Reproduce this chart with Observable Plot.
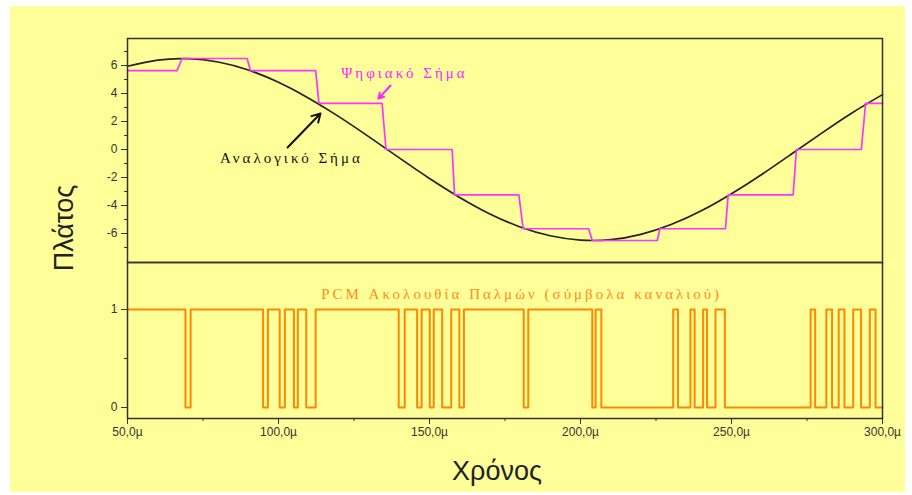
<!DOCTYPE html>
<html>
<head>
<meta charset="utf-8">
<script src="https://cdn.jsdelivr.net/npm/d3@7"></script>
<script src="https://cdn.jsdelivr.net/npm/@observablehq/plot@0.6"></script>
<style>
  body { margin: 0; background: #ffffff; width: 912px; height: 495px; overflow: hidden; position: relative; }
  #bg { position: absolute; left: 10px; top: 6px; width: 895px; height: 486px; background: #ffff99; }
  #top, #bot { position: absolute; left: 0; }
  #top { top: 0; }
  #bot { top: 260px; }
  #ylab { position: absolute; left: 64px; top: 228px; transform: translate(-50%, -50%) rotate(-90deg);
          font-family: "Liberation Sans", Arial, sans-serif; font-size: 27px; color: #222; white-space: nowrap; }
  #xlab { position: absolute; left: 497px; top: 471px; transform: translate(-50%, -50%);
          font-family: "Liberation Sans", Arial, sans-serif; font-size: 27px; color: #222; white-space: nowrap; }
  svg { overflow: visible; }
</style>
</head>
<body>
<div id="bg"></div>
<div id="top"></div>
<div id="bot"></div>
<div id="ylab">Πλάτος</div>
<div id="xlab">Χρόνος</div>
<script>
// Analog signal (time in µs, amplitude)
const analogTime = [50, 60, 70, 80, 90, 100, 110, 120, 130, 140, 150, 160, 170, 180, 190, 200, 210, 220, 230, 240, 250, 260, 270, 280, 290, 300];
const analogValue = [5.95, 6.39, 6.49, 6.25, 5.68, 4.80, 3.67, 2.35, 0.90, -0.60, -2.07, -3.42, -4.60, -5.53, -6.16, -6.47, -6.44, -6.06, -5.36, -4.38, -3.16, -1.78, -0.30, 1.19, 2.63, 3.92];

// Digital (sample-and-hold) signal
const digitalTime = [50, 66.4, 68.1, 89.6, 90.7, 112.3, 113.4, 134.3, 135.6, 157.5, 158.3, 179.6, 181.0, 202.7, 203.9, 225.4, 226.3, 248.0, 248.9, 270.4, 271.5, 293.0, 294.4, 300];
const digitalValue = [5.64, 5.64, 6.5, 6.5, 5.64, 5.64, 3.3, 3.3, 0, 0, -3.24, -3.24, -5.66, -5.66, -6.5, -6.5, -5.66, -5.66, -3.24, -3.24, 0, 0, 3.3, 3.3];

// PCM pulse train (level changes)
const pcmTime = [50, 69.2, 70.9, 94.9, 96.5, 100.4, 102.1, 105.1, 106.4, 109.2, 112.3, 139.8, 141.8, 145.9, 147.4, 150.1, 151.4, 154.2, 157.2, 159.9, 161.4, 181.2, 182.7, 203.9, 205.0, 206.9, 230.7, 232.3, 236.4, 237.8, 240.6, 241.9, 244.7, 247.8, 276.2, 277.7, 281.4, 283.3, 285.5, 287.4, 290.3, 292.9, 295.8, 297.7, 300];
const pcmLevel = [1, 0, 1, 0, 1, 0, 1, 0, 1, 0, 1, 0, 1, 0, 1, 0, 1, 0, 1, 0, 1, 0, 1, 0, 1, 0, 1, 0, 1, 0, 1, 0, 1, 0, 1, 0, 1, 0, 1, 0, 1, 0, 1, 0, 0];

// Ticks
const topMajorTicks = [-6, -4, -2, 0, 2, 4, 6];
const topMinorTicks = [-7, -5, -3, -1, 1, 3, 5, 7];
const botMajorTicks = [0, 1];
const botMinorTicks = [0.5];
const xMajorTicks = [50, 100, 150, 200, 250, 300];
const xMinorTicks = [75, 125, 175, 225, 275];

// Labels
const digitalLabel = "Ψηφιακό Σήμα";
const analogLabel = "Αναλογικό Σήμα";
const pcmLabel = "PCM Ακολουθία Παλμών (σύμβολα καναλιού)";

const analog = analogTime.map((t, i) => ({t, v: analogValue[i]}));
const digital = digitalTime.map((t, i) => ({t, v: digitalValue[i]}));
const pcm = pcmTime.map((t, i) => ({t, v: pcmLevel[i]}));

const axisStyle = {fontFamily: "Liberation Sans, Arial, sans-serif", fontSize: "12px", color: "#333", background: "transparent"};

const topPlot = Plot.plot({
  width: 912, height: 264,
  marginLeft: 127, marginRight: 30, marginTop: 38, marginBottom: 2,
  style: axisStyle,
  x: {domain: [50, 300], axis: null},
  y: {domain: [-8.07, 7.93], axis: null},
  marks: [
    Plot.axisY({ticks: topMajorTicks, tickSize: 6, tickPadding: 4, tickFormat: d => String(d), label: null}),
    Plot.axisY({ticks: topMinorTicks, tickSize: 3, text: null, label: null}),
    Plot.line(analog, {x: "t", y: "v", curve: "natural", stroke: "#222", strokeWidth: 1.7}),
    Plot.line(digital, {x: "t", y: "v", stroke: "#ff33ff", strokeWidth: 1.7}),
    Plot.text([digitalLabel], {x: 141.7, y: 5.43, text: d => d, fill: "#ff22ff", fontSize: 15, fontFamily: "Liberation Serif, serif"}),
    Plot.arrow([0], {x1: 137.1, y1: 4.57, x2: 133.1, y2: 3.64, stroke: "#ff22ff", strokeWidth: 2, headLength: 7}),
    Plot.text([analogLabel], {x: 104.3, y: -0.64, text: d => d, fill: "#111", fontSize: 15, fontFamily: "Liberation Serif, serif"}),
    Plot.arrow([0], {x1: 103.0, y1: 0.14, x2: 113.9, y2: 2.57, stroke: "#111", strokeWidth: 2, headLength: 7}),
    Plot.frame({stroke: "#333", strokeWidth: 1.5})
  ]
});

const botPlot = Plot.plot({
  width: 912, height: 235,
  marginLeft: 127, marginRight: 30, marginTop: 2, marginBottom: 77,
  style: axisStyle,
  x: {domain: [50, 300], axis: null},
  y: {domain: [-0.112, 1.48], axis: null},
  marks: [
    Plot.axisY({ticks: botMajorTicks, tickSize: 6, tickPadding: 4, tickFormat: d => String(d), label: null}),
    Plot.axisY({ticks: botMinorTicks, tickSize: 3, text: null, label: null}),
    Plot.axisX({ticks: xMajorTicks, tickSize: 6, tickPadding: 3, tickFormat: d => d.toFixed(1).replace(".", ",") + "µ", label: null}),
    Plot.axisX({ticks: xMinorTicks, tickSize: 3, text: null, label: null}),
    Plot.line(pcm, {x: "t", y: "v", curve: "step-after", stroke: "#ff8800", strokeWidth: 2}),
    Plot.text([pcmLabel], {x: 180.5, y: 1.16, text: d => d, fill: "#ff8c1a", fontSize: 15, fontFamily: "Liberation Serif, serif"}),
    Plot.frame({stroke: "#333", strokeWidth: 1.5})
  ]
});

document.getElementById("top").appendChild(topPlot);
document.getElementById("bot").appendChild(botPlot);

for (const svg of [topPlot, botPlot]) {
  d3.select(svg).selectAll("g[aria-label='text'] text").attr("letter-spacing", "3px");
}
</script>
</body>
</html>
